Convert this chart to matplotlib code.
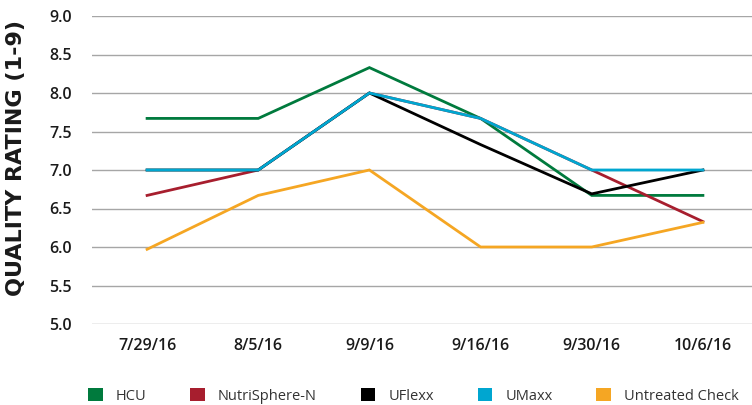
"""Quality rating by treatment across sampling dates."""
import matplotlib
matplotlib.use("Agg")
import matplotlib.pyplot as plt
from matplotlib.patches import Patch

dates = ["7/29/16", "8/5/16", "9/9/16", "9/16/16", "9/30/16", "10/6/16"]
hcu = [7.67, 7.67, 8.33, 7.67, 6.67, 6.67]
nutrisphere = [6.67, 7.0, 8.0, 7.67, 7.0, 6.33]
uflexx = [7.0, 7.0, 8.0, 7.33, 6.69, 7.0]
umaxx = [7.0, 7.0, 8.0, 7.67, 7.0, 7.0]
untreated = [5.97, 6.67, 7.0, 6.0, 6.0, 6.32]

series = [(hcu, "HCU", "#007A3D"),
          (nutrisphere, "NutriSphere-N", "#A71E2E"),
          (uflexx, "UFlexx", "#000000"),
          (umaxx, "UMaxx", "#00A6D0"),
          (untreated, "Untreated Check", "#F5A623")]

plt.rcParams["font.family"] = ["Open Sans", "DejaVu Sans"]

fig = plt.figure(figsize=(7.52, 4.05), dpi=100)
ax = fig.add_axes([91.5 / 752, 1 - 324 / 405, 667 / 752, 308 / 405])

x = range(len(dates))
for vals, label, color in series:
    ax.plot(x, vals, color=color, linewidth=2.0, solid_joinstyle="miter")

ax.set_xlim(-0.5, len(dates) - 0.5)
ax.set_ylim(5.0, 9.0)
ax.set_yticks([5.0 + 0.5 * i for i in range(9)])
ax.set_yticklabels([f"{5.0 + 0.5 * i:.1f}" for i in range(9)])
ax.set_xticks(list(x))
ax.set_xticklabels(dates)
ax.grid(axis="y", color="#a6a6a6", linewidth=1.0)
ax.set_axisbelow(True)
for s in ax.spines.values():
    s.set_visible(False)
ax.tick_params(axis="y", length=0, pad=14, labelsize=11.5)
ax.tick_params(axis="x", length=0, pad=10, labelsize=11.5)
for lab in ax.get_xticklabels() + ax.get_yticklabels():
    lab.set_fontweight("semibold")
    lab.set_color("#1a1a1a")

fig.text(16 / 752, 1 - 158 / 405, "QUALITY RATING (1-9)", rotation=90,
         ha="center", va="center", fontsize=16, fontweight="bold",
         family="DejaVu Sans", color="#1a1a1a")

handles = [Patch(facecolor=c, edgecolor="none", label=l) for _, l, c in series]
fig.legend(handles=handles, loc="center left", bbox_to_anchor=(75 / 752, 1 - 396 / 405),
           ncol=5, frameon=False, fontsize=10.5, handlelength=1.0, handleheight=1.0,
           handletextpad=0.9, columnspacing=3.0, labelcolor="#333333")

fig.savefig("out.png", dpi=100)
